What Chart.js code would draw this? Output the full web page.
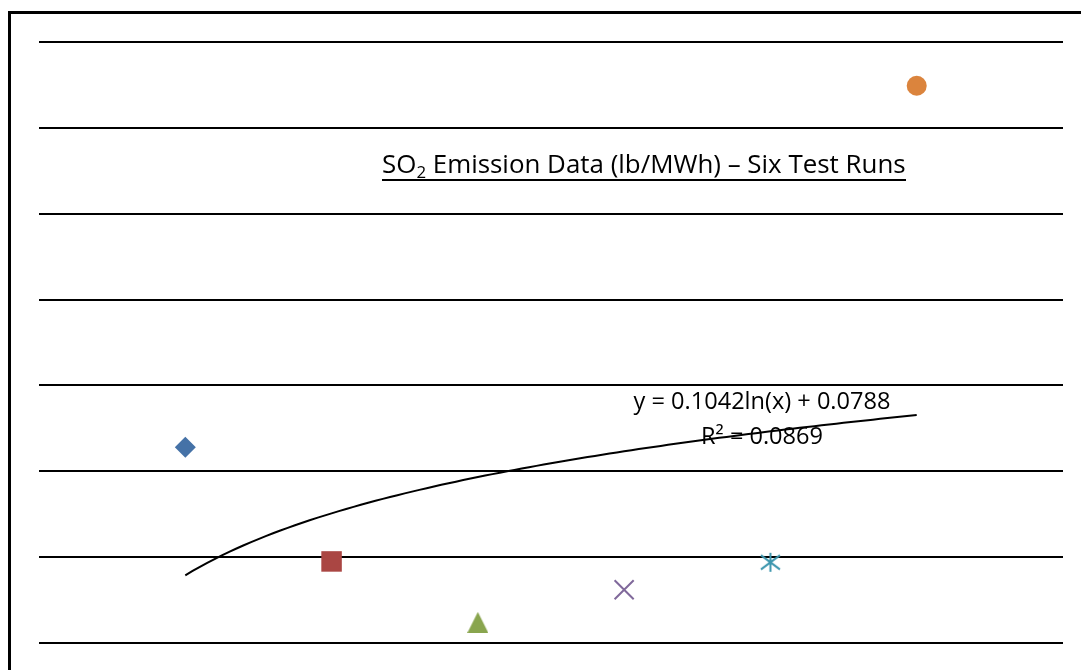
<!DOCTYPE html>
<html>
<head>
<meta charset="utf-8">
<script src="https://cdn.jsdelivr.net/npm/chart.js@4/dist/chart.umd.min.js"></script>
<style>
html, body { margin: 0; padding: 0; background: #fff; overflow: hidden; }
#frame { position: absolute; left: 8px; top: 11px; width: 1200px; height: 800px; border: 3px solid #000; box-sizing: border-box; }
#wrap { position: absolute; left: 0; top: 0; width: 1081px; height: 670px; }
</style>
</head>
<body>
<div id="frame"></div>
<div id="wrap"><canvas id="so2Chart" width="1081" height="670"></canvas></div>
<script>
// test runs and SO2 emission (lb/MWh)
var runs = [1, 2, 3, 4, 5, 6];
var so2 = [0.228, 0.095, 0.024, 0.062, 0.094, 0.649];
var runColors = ['#4572A7', '#AA4643', '#89A54E', '#80699B', '#3D96AE', '#DB843D'];

// log trendline as printed on the chart
var trendA = 0.1042;
var trendB = 0.0788;
var trendR2 = 0.0869;

var fontFam = '"Open Sans", "Liberation Sans", sans-serif';

function asteriskMarker(color, half) {
    var c = document.createElement('canvas');
    var m = half + 2;
    c.width = c.height = 2 * m;
    var g = c.getContext('2d');
    g.strokeStyle = color;
    g.lineWidth = 2;
    g.beginPath();
    g.moveTo(m, m - half); g.lineTo(m, m + half);
    g.moveTo(m - half, m - half * 0.75); g.lineTo(m + half, m + half * 0.75);
    g.moveTo(m - half, m + half * 0.75); g.lineTo(m + half, m - half * 0.75);
    g.stroke();
    return c;
}

// triangle centred on its box, like the spreadsheet marker
function triangleMarker(color, size) {
    var c = document.createElement('canvas');
    c.width = c.height = size;
    var g = c.getContext('2d');
    g.fillStyle = color;
    g.beginPath();
    g.moveTo(size / 2, 0);
    g.lineTo(size, size);
    g.lineTo(0, size);
    g.closePath();
    g.fill();
    return c;
}

var markers = [
    { style: 'rectRot', radius: 10.5, fill: true },
    { style: 'rect', radius: 14.5, fill: true },
    { style: triangleMarker(runColors[2], 21), radius: 11, fill: true },
    { style: 'crossRot', radius: 13.5, fill: false },
    { style: asteriskMarker(runColors[4], 9.5), radius: 10, fill: false },
    { style: 'circle', radius: 10, fill: true }
];

var datasets = runs.map(function (r, i) {
    return {
        label: 'Run ' + r,
        data: [{ x: r, y: so2[i] }],
        pointStyle: markers[i].style,
        pointRadius: markers[i].radius,
        backgroundColor: markers[i].fill ? runColors[i] : 'transparent',
        borderColor: runColors[i],
        borderWidth: markers[i].fill ? 0 : 2,
        showLine: false,
        order: 1
    };
});

var trendPts = [];
for (var x = 1; x <= 6.0001; x += 0.05) {
    trendPts.push({ x: x, y: trendA * Math.log(x) + trendB });
}
datasets.push({
    label: 'Log. trend',
    data: trendPts,
    showLine: true,
    pointRadius: 0,
    borderColor: '#000',
    borderWidth: 2,
    tension: 0,
    order: 0
});

function fitFont(ctx, text, width) {
    ctx.font = '100px ' + fontFam;
    return 100 * width / ctx.measureText(text).width;
}

var textPlugin = {
    id: 'textPlugin',
    beforeDatasetsDraw: function (chart) {
        var ctx = chart.ctx;
        ctx.save();
        ctx.fillStyle = '#000';
        ctx.textBaseline = 'alphabetic';
        ctx.textAlign = 'left';

        // title with subscript and underline
        var p1 = 'SO', p2 = '2', p3 = ' Emission Data (lb/MWh) \u2013 Six Test Runs';
        ctx.font = '100px ' + fontFam;
        var w1 = ctx.measureText(p1).width, w3 = ctx.measureText(p3).width;
        ctx.font = '65px ' + fontFam;
        var w2 = ctx.measureText(p2).width;
        var s = 524 / ((w1 + w2 + w3) / 100);
        var x0 = 382, base = 173;
        ctx.font = s + 'px ' + fontFam;
        ctx.fillText(p1, x0, base);
        var xs = x0 + w1 * s / 100;
        ctx.font = (s * 0.65) + 'px ' + fontFam;
        ctx.fillText(p2, xs, base + s * 0.2);
        var xr = xs + w2 * s / 100;
        ctx.font = s + 'px ' + fontFam;
        ctx.fillText(p3, xr, base);
        ctx.fillRect(x0, base + 6, 524, 2);

        // trendline label
        var l1 = 'y = ' + trendA + 'ln(x) + ' + trendB;
        var l2 = 'R\u00b2 = ' + trendR2;
        var fs = fitFont(ctx, l1, 257);
        ctx.font = fs + 'px ' + fontFam;
        ctx.textAlign = 'center';
        ctx.fillText(l1, 762, 409);
        ctx.fillText(l2, 762, 444);
        ctx.restore();
    }
};

var ctx = document.getElementById('so2Chart').getContext('2d');
var chart = new Chart(ctx, {
    type: 'scatter',
    data: { datasets: datasets },
    options: {
        responsive: false,
        animation: false,
        devicePixelRatio: 1,
        layout: { padding: { left: 39, top: 42, right: 18, bottom: 27 } },
        plugins: {
            legend: { display: false },
            title: { display: false },
            tooltip: { enabled: false }
        },
        scales: {
            x: {
                type: 'linear',
                min: 0,
                max: 7,
                display: false
            },
            y: {
                min: 0,
                max: 0.7,
                ticks: { display: false, stepSize: 0.1 },
                border: { display: false },
                grid: { color: '#000', lineWidth: 2, drawTicks: false }
            }
        }
    },
    plugins: [textPlugin]
});
</script>
</body>
</html>
